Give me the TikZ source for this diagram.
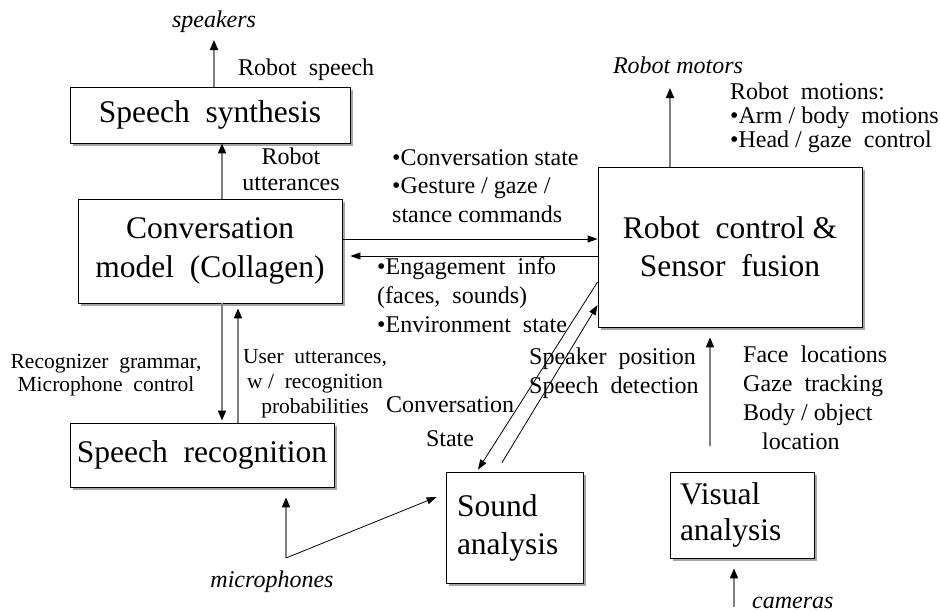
\documentclass[tikz,border=0pt]{standalone}
\usepackage{fontspec}
\setmainfont{Liberation Serif}
\usetikzlibrary{arrows.meta,shadows}
\begin{document}
\begin{tikzpicture}[x=1pt,y=-1pt,
  box/.style={draw=black, line width=0.8pt, fill=white,
    drop shadow={shadow xshift=3pt,shadow yshift=-3pt,fill=gray!70,opacity=1},
    font=\fontsize{31.5}{39}\selectfont, inner sep=0pt},
  lbl/.style={font=\fontsize{24}{28}\selectfont, inner sep=0pt},
  ilbl/.style={inner sep=0pt, font=\fontsize{24}{28}\selectfont\itshape},
  garrow/.style={draw=gray, line width=1.6pt, -{Triangle[length=10pt,width=8pt,color=black]}},
  barrow/.style={draw=black, line width=0.8pt, -{Triangle[length=10pt,width=7pt]}},
]
\useasboundingbox (0,0) rectangle (940,611);

% boxes
\node[box, minimum width=280pt, minimum height=56pt] (synth) at (210,115) {Speech~ synthesis};
\node[box, minimum width=264pt, minimum height=104pt, align=center] (conv) at (210,251) {Conversation\\model~ (Collagen)};
\node[box, minimum width=264pt, minimum height=64pt] (recog) at (202,455) {Speech~ recognition};
\node[box, minimum width=264pt, minimum height=160pt, align=center, font=\fontsize{31.5}{38}\selectfont] (robot) at (730,247) {Robot~ control \&\\Sensor~ fusion};
\node[box, minimum width=137pt, minimum height=111pt, text width=115pt, inner xsep=11pt, align=left, font=\fontsize{31.5}{38}\selectfont] (sound) at (514.5,527.5) {Sound\\analysis};
\node[box, minimum width=144pt, minimum height=86pt, text width=124pt, inner xsep=10pt, align=left, font=\fontsize{31.5}{36}\selectfont] (visual) at (742,515) {Visual\\analysis};

% free ends
\coordinate (spk) at (214,40);
\coordinate (motor) at (670,88);
\coordinate (mic) at (286,558);
\coordinate (cam) at (734,607);

% connectors
\draw[garrow] ([xshift=4pt]synth.north) -- (spk);
\draw[garrow] ([xshift=12pt]conv.north) -- ([xshift=12pt]synth.south);
\draw[garrow] ([xshift=12pt]conv.south) -- ([xshift=20pt,yshift=2pt]recog.north);
\draw[garrow] ([xshift=36pt]recog.north) -- ([xshift=28pt,yshift=-5pt]conv.south);
\draw[barrow] ([yshift=12pt]conv.east) -- ([yshift=8pt]robot.west);
\draw[barrow] ([yshift=-9pt]robot.west) -- ([xshift=8pt,yshift=-5pt]conv.east);
\draw[barrow] ([yshift=-35pt]robot.west) -- ([xshift=-36.5pt,yshift=2pt]sound.north);
\draw[barrow] ([xshift=-12.5pt,yshift=9pt]sound.north) -- ([yshift=-58pt]robot.west);
\draw[garrow] (mic) -- ([xshift=84pt,yshift=-10pt]recog.south);
\draw[barrow] (mic) -- ([xshift=-9pt,yshift=30.5pt]sound.west);
\draw[garrow] ([xshift=-60pt]robot.north) -- (motor);
\draw[garrow] ([xshift=-20pt,yshift=-119pt]robot.south) -- ([xshift=-20pt,yshift=-10pt]robot.south);
\draw[garrow] (cam) -- ([xshift=-8pt,yshift=-10pt]visual.south);

% labels (multi-line nodes: base anchor = last line's baseline)
\node[ilbl, anchor=base] (speakers) at (214,27) {speakers};
\node[lbl, anchor=base west] (rspeech) at (238,75) {Robot~ speech};
\node[lbl, anchor=base, align=center, font=\fontsize{24}{26}\selectfont] (rutt) at (291,190) {Robot\\utterances};
\node[lbl, anchor=base west, align=left, font=\fontsize{24}{28.5}\selectfont] (cmds) at (392,222) {•Conversation state\\•Gesture / gaze /\\stance commands};
\node[lbl, anchor=base west, align=left, font=\fontsize{24}{29}\selectfont] (engage) at (377,332) {•Engagement~ info\\(faces,~ sounds)\\•Environment~ state};
\node[ilbl, anchor=base] (rmotors) at (678,73) {Robot motors};
\node[lbl, anchor=base west, align=left, font=\fontsize{24}{24}\selectfont] (rmotions) at (730,147) {Robot~ motions:\\•Arm / body~ motions\\•Head / gaze~ control};
\node[lbl, anchor=base, align=center, font=\fontsize{21.5}{23}\selectfont] (rgram) at (106,391) {Recognizer~ grammar,\\Microphone~ control};
\node[lbl, anchor=base, align=center, font=\fontsize{21.5}{25}\selectfont] (uutt) at (315,413) {User~ utterances,\\w /~ recognition\\probabilities};
\node[lbl, anchor=base, align=center, font=\fontsize{24}{34}\selectfont] (cstate) at (450,446) {Conversation\\State};
\node[lbl, anchor=base west, align=left, font=\fontsize{24}{29}\selectfont] (spos) at (529,393) {Speaker~ position\\Speech~ detection};
\node[lbl, anchor=base west, align=left, font=\fontsize{24}{29}\selectfont] (faces) at (743,449) {Face~ locations\\Gaze~ tracking\\Body / object\\\hspace*{19pt}location};
\node[ilbl, anchor=base] (mics) at (272,587) {microphones};
\node[ilbl, anchor=base west] (cams) at (752,608) {cameras};
\end{tikzpicture}
\end{document}
